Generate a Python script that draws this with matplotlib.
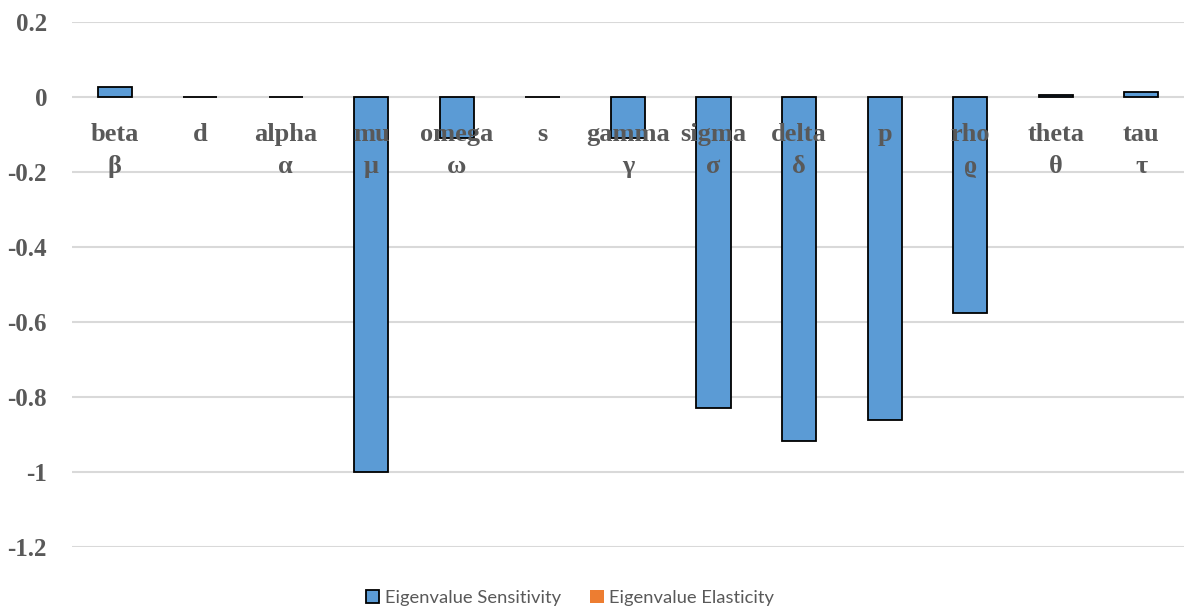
import matplotlib.pyplot as plt
from matplotlib.patches import Patch
import numpy as np

names = ['beta', 'd', 'alpha', 'mu', 'omega', 's', 'gamma', 'sigma', 'delta', 'p', 'rho', 'theta', 'tau']
symbols = ['β', '', 'α', 'μ', 'ω', '', 'γ', 'σ', 'δ', '', 'ϱ', 'θ', 'τ']
sensitivity = [0.027, 0.001, 0.001, -1.0, -0.108, 0.001, -0.109, -0.828, -0.916, -0.861, -0.576, 0.005, 0.013]
elasticity = []  # series is empty in the source chart

yticks = [0.2, 0, -0.2, -0.4, -0.6, -0.8, -1, -1.2]
ytick_labels = ['0.2', '0', '-0.2', '-0.4', '-0.6', '-0.8', '-1', '-1.2']

grey = '#595959'
serif = ['Liberation Serif', 'DejaVu Serif']

fig = plt.figure(figsize=(11.84, 6.10), dpi=100)
ax = fig.add_axes([72 / 1184, 1 - 547 / 610, 1 - 72 / 1184, (547 - 22) / 610])

x = np.arange(len(names))
ax.bar(x, sensitivity, width=0.4, color='#5B9BD5', edgecolor='black', linewidth=1.3, zorder=2)

ax.set_xlim(-0.5, len(names) - 0.5)
ax.set_ylim(-1.2, 0.2)
ax.set_yticks(yticks)
ax.set_yticklabels(ytick_labels, fontfamily=serif, fontweight='bold', fontsize=18, color=grey)
ax.tick_params(axis='y', length=0, pad=18)
ax.set_xticks([])
ax.grid(axis='y', color='#D9D9D9', linewidth=1.5, zorder=0)
ax.set_axisbelow(True)
for sp in ax.spines.values():
    sp.set_visible(False)

# category labels sit just under the zero line, on top of the bars
for i, (n, s) in enumerate(zip(names, symbols)):
    ax.text(i, -0.099, n, ha='center', va='center', fontfamily=serif, fontweight='bold',
            fontsize=19, color=grey, zorder=5)
    if s:
        ax.text(i, -0.185, s, ha='center', va='center', fontfamily=serif, fontweight='bold',
                fontsize=19, color=grey, zorder=5)

handles = [Patch(facecolor='#5B9BD5', edgecolor='black', linewidth=1.3),
           Patch(facecolor='#ED7D31', edgecolor='none')]
fig.legend(handles, ['Eigenvalue Sensitivity', 'Eigenvalue Elasticity'],
           loc='center', bbox_to_anchor=(570 / 1184, 1 - 598 / 610), ncol=2, frameon=False,
           prop={'family': 'Lato', 'size': 13.2}, labelcolor=grey,
           handlelength=0.75, handleheight=0.75, handletextpad=0.3, columnspacing=1.6)

fig.savefig('out.png', dpi=100)
